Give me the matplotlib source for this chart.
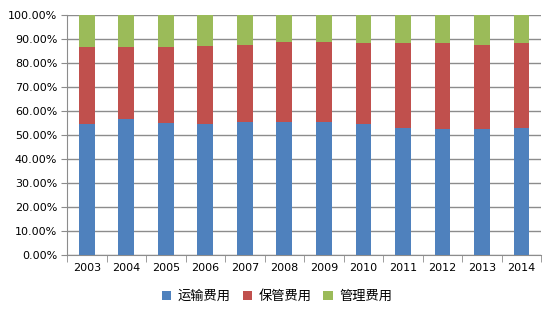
import numpy as np
import matplotlib.pyplot as plt
from matplotlib.ticker import FuncFormatter, FixedLocator

plt.rcParams['font.family'] = ['DejaVu Sans', 'Noto Sans CJK SC']

years = ['2003', '2004', '2005', '2006', '2007', '2008',
         '2009', '2010', '2011', '2012', '2013', '2014']
# shares of total logistics cost (%)
transport = [54.7, 56.7, 55.1, 54.6, 55.5, 55.5, 55.5, 54.4, 53.0, 52.6, 52.6, 53.0]
storage = [31.7, 30.1, 31.7, 32.6, 32.1, 33.0, 33.0, 33.7, 35.1, 35.5, 35.0, 35.1]
management = [13.6, 13.2, 13.2, 12.8, 12.4, 11.5, 11.5, 11.9, 11.9, 11.9, 12.4, 11.9]
names = ['运输费用', '保管费用', '管理费用']
colors = ['#4F81BD', '#C0504D', '#9BBB59']

fig = plt.figure(figsize=(5.54, 3.23), dpi=100)
ax = fig.add_axes([0.121, 0.211, 0.856, 0.743])

x = np.arange(len(years))
t = np.array(transport) / 100
s = np.array(storage) / 100
m = np.array(management) / 100
ax.bar(x, t, 0.4, color=colors[0], label=names[0], zorder=3)
ax.bar(x, s, 0.4, bottom=t, color=colors[1], label=names[1], zorder=3)
ax.bar(x, m, 0.4, bottom=t + s, color=colors[2], label=names[2], zorder=3)

ax.set_xlim(-0.5, len(years) - 0.5)
ax.set_ylim(0, 1)
ax.set_yticks(np.arange(0, 1.01, 0.1))
ax.yaxis.set_major_formatter(FuncFormatter(lambda v, p: '%.2f%%' % (v * 100)))
ax.grid(axis='y', color='#8c8c8c', linewidth=1, zorder=0)

ax.set_xticks(x)
ax.set_xticklabels(years)
ax.xaxis.set_minor_locator(FixedLocator(np.arange(-0.5, len(years), 1)))
ax.tick_params(axis='x', which='major', length=0, pad=6, labelsize=8, colors='black')
ax.tick_params(axis='x', which='minor', length=5, color='#8c8c8c')
ax.tick_params(axis='y', length=4, color='#8c8c8c', labelsize=8, pad=3)

for side in ['top', 'right']:
    ax.spines[side].set_visible(False)
for side in ['left', 'bottom']:
    ax.spines[side].set_color('#8c8c8c')

fig.legend(loc='lower center', bbox_to_anchor=(0.5, 0.025), ncol=3, frameon=False,
           fontsize=9.5, handlelength=0.7, handleheight=0.7, columnspacing=0.9,
           handletextpad=0.5)

fig.savefig('out.png', dpi=100)
